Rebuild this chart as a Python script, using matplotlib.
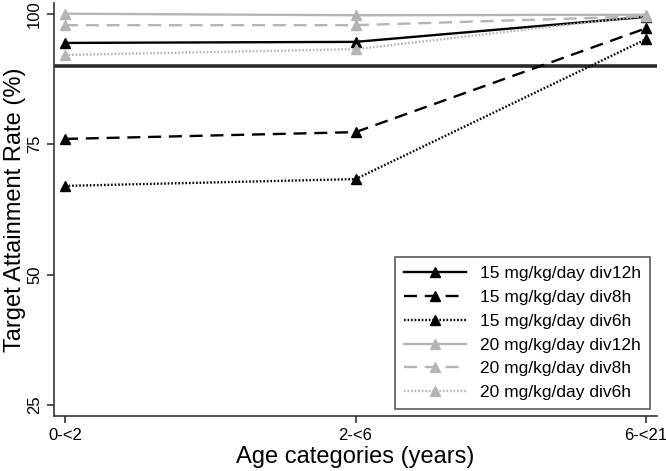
import matplotlib
matplotlib.use("Agg")
import matplotlib.pyplot as plt

plt.rcParams['font.family'] = ['Liberation Sans', 'DejaVu Sans']

categories = ["0-<2", "2-<6", "6-<21"]
s15_12 = [94.4, 94.6, 99.4]
s15_8 = [76.0, 77.3, 97.2]
s15_6 = [67.0, 68.3, 95.1]
s20_12 = [100.0, 99.7, 99.8]
s20_8 = [97.8, 97.8, 99.5]
s20_6 = [92.1, 93.2, 99.6]
target = 90
yticks = [25, 50, 75, 100]

dash = (0, (5.5, 3.3))
dot = (0, (0.7, 0.8))
series = [
    ("15 mg/kg/day div12h", s15_12, "black", "-"),
    ("15 mg/kg/day div8h", s15_8, "black", dash),
    ("15 mg/kg/day div6h", s15_6, "black", dot),
    ("20 mg/kg/day div12h", s20_12, "#b4b4b4", "-"),
    ("20 mg/kg/day div8h", s20_8, "#b4b4b4", dash),
    ("20 mg/kg/day div6h", s20_6, "#b4b4b4", dot),
]

fig = plt.figure(figsize=(6.66, 4.71), dpi=100)
ax = fig.add_axes([54/666, (471-416)/471, (657-54)/666, (416-3)/471])

x = list(range(len(categories)))
ax.axhline(target, color="#2a2a2a", lw=2.6, zorder=1)
for label, vals, col, ls in series:
    ax.plot(x, vals, color=col, ls=ls, lw=1.7, marker="^", ms=7.5,
            markerfacecolor=col, markeredgecolor=col, label=label, zorder=3)

ax.set_xlim(-0.038, 2.038)
ax.set_ylim(22.9, 102.05)
ax.set_xticks(x)
ax.set_xticklabels(categories, fontsize=12)
ax.set_yticks(yticks)
ax.set_yticklabels([str(v) for v in yticks], fontsize=12, rotation=90, va="center")
ax.spines['top'].set_visible(False)
ax.spines['right'].set_visible(False)
for s in ['left', 'bottom']:
    ax.spines[s].set_color("#333333")
    ax.spines[s].set_linewidth(1.2)
ax.tick_params(direction='out', length=5, width=1.2, color="#333333", pad=3.5)
ax.set_xlabel("Age categories (years)", fontsize=17, labelpad=2)
ax.set_ylabel("Target Attainment Rate (%)", fontsize=17, labelpad=1)

leg = ax.legend(loc="lower right", bbox_to_anchor=(650/666, (471-409)/471),
                bbox_transform=fig.transFigure, borderaxespad=0, fontsize=12.5,
                frameon=True, fancybox=False, edgecolor="#333333", handlelength=3.6,
                labelspacing=0.5, borderpad=0.5, handletextpad=0.8)
leg.get_frame().set_linewidth(1.2)

fig.savefig("out.png", dpi=100)
